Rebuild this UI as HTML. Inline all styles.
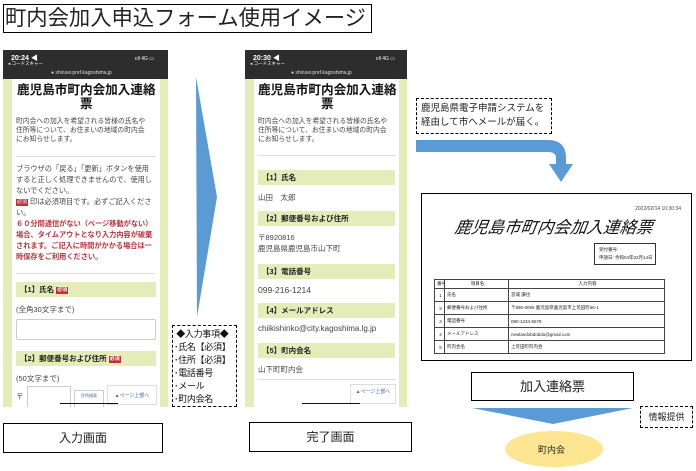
<!DOCTYPE html>
<html><head><meta charset="utf-8"><style>
*{margin:0;padding:0;box-sizing:border-box}
body{width:696px;height:471px;background:#fff;position:relative;overflow:hidden;font-family:"Liberation Sans","Noto Sans CJK JP",sans-serif;color:#222}
.a{position:absolute;white-space:nowrap}
.box{position:absolute;border:1.3px solid #000;background:#fff;white-space:nowrap}
.dash{position:absolute;border:1px dashed #000;background:#fff;white-space:nowrap}
.phone{position:absolute;background:#e4ecb9;overflow:hidden}
.sb{position:absolute;left:0;right:0;top:0;height:29px;background:#2d2d2d;color:#fff}
.in{position:absolute;top:29px;bottom:0;background:#fff;overflow:hidden}
.g{position:absolute;background:#e4ecb9;font-size:7.5px;font-weight:bold;padding-left:4px;line-height:15px;white-space:nowrap}
.t{font-size:7.5px;color:#444}
.req{display:inline-block;background:#c0303a;color:#fff;font-size:5px;padding:0 1px;line-height:7px;vertical-align:1px}
td{border:1px solid #444;padding-left:2px;white-space:nowrap;overflow:hidden}
</style></head><body>

<div class="box" style="left:3px;top:4px;width:369px;height:29px;font-size:21.3px;line-height:26px;padding-left:1px">町内会加入申込フォーム使用イメージ</div>

<!-- phone 1 -->
<div class="phone" style="left:3px;top:50px;width:165px;height:357px">
 <div class="sb"><div class="a" style="left:8px;top:3px;font-size:7px;font-weight:bold">20:24 ◀</div><div class="a" style="left:5px;top:11px;font-size:4.5px">◂ コードスキャー</div><div class="a" style="right:14px;top:6px;font-size:5px">ııll 4G ▭</div><div class="a" style="left:48px;top:20px;font-size:5px;color:#ddd">● shinsei.pref.kagoshima.jp</div></div>
 <div class="in" style="left:9px;right:8px">
  <div class="a" style="left:5px;top:4px;font-size:12.6px;font-weight:bold;line-height:14px;color:#111">鹿児島市町内会加入連絡<br><span style="padding-left:63px">票</span></div>
  <div class="a t" style="left:4px;top:38px;line-height:9px;font-size:6.8px">町内会への加入を希望される皆様の氏名や<br>住所等について、お住まいの地域の町内会<br>にお知らせします。</div>
  <div class="a" style="left:4px;right:4px;top:77px;border-top:1px solid #ddd"></div>
  <div class="a t" style="left:4px;top:84px;line-height:11px;font-size:7.2px">ブラウザの「戻る」「更新」ボタンを使用<br>すると正しく処理できませんので、使用し<br>ないでください。<br><span class="req">必須</span> 印は必須項目です。必ずご記入くださ<br>い。<br><b style="color:#c0303a">６０分間通信がない（ページ移動がない）<br>場合、タイムアウトとなり入力内容が破棄<br>されます。ご記入に時間がかかる場合は一<br>時保存をご利用ください。</b></div>
  <div class="a" style="left:4px;right:4px;top:194px;border-top:1px solid #ddd"></div>
  <div class="g" style="left:4px;right:4px;top:203px;height:15px">【1】氏名 <span class="req">必須</span></div>
  <div class="a t" style="left:4px;top:225px">(全角30文字まで)</div>
  <div class="a" style="left:4px;right:4px;top:240px;height:21px;border:1px solid #ccc;border-radius:2px"></div>
  <div class="g" style="left:4px;right:4px;top:272px;height:15px">【2】郵便番号および住所 <span class="req">必須</span></div>
  <div class="a t" style="left:4px;top:294px">(50文字まで)</div>
  <div class="a t" style="left:4px;top:312px">〒</div>
  <div class="a" style="left:15px;top:307px;width:44px;height:25px;border:1px solid #ccc"></div>
  <div class="a" style="left:62px;top:311px;width:30px;height:20px;border:1px solid #ccc;font-size:4px;color:#46a;text-align:center;line-height:10px">住所検索</div>
  <div class="a" style="left:95px;top:306px;width:50px;height:20px;border:1px solid #ddd;font-size:5px;color:#46a;line-height:20px;text-align:center;background:#fff">▲ページ上部へ</div>
  <div class="a" style="left:48px;top:324px;width:58px;border-top:1.5px solid #111"></div>
 </div>
</div>

<svg class="a" style="left:0;top:0" width="696" height="471">
 <polygon points="196,77 217,197 197,317" fill="#5b9bd5"/>
 <path d="M416,140 H548 Q566,140 566,158 V164 H573 L561,182 L549,164 H556 V158 Q556,152 548,152 H416 Z" fill="#5b9bd5"/>
 <polygon points="472,408 633,408 553,424" fill="#5b9bd5"/>
 <ellipse cx="554" cy="449" rx="49" ry="18" fill="#fde591"/>
</svg>

<div class="dash" style="left:172px;top:325px;width:65px;height:82px;font-size:9px;line-height:13px;padding:2px 0 0 1px;color:#111;letter-spacing:-0.3px">&nbsp;◆入力事項◆<br>･氏名【必須】<br>･住所【必須】<br>･電話番号<br>･メール<br>･町内会名</div>

<!-- phone 2 -->
<div class="phone" style="left:245px;top:50px;width:162px;height:357px">
 <div class="sb"><div class="a" style="left:8px;top:3px;font-size:7px;font-weight:bold">20:30 ◀</div><div class="a" style="left:5px;top:11px;font-size:4.5px">◂ コードスキャー</div><div class="a" style="right:12px;top:6px;font-size:5px">ııll 4G ▭</div><div class="a" style="left:46px;top:20px;font-size:5px;color:#ddd">● shinsei.pref.kagoshima.jp</div></div>
 <div class="in" style="left:9px;right:8px">
  <div class="a" style="left:4px;top:4px;font-size:12.6px;font-weight:bold;line-height:14px;color:#111">鹿児島市町内会加入連絡<br><span style="padding-left:63px">票</span></div>
  <div class="a t" style="left:4px;top:38px;line-height:9px;font-size:6.8px">町内会への加入を希望される皆様の氏名や<br>住所等について、お住まいの地域の町内会<br>にお知らせします。</div>
  <div class="a" style="left:4px;right:4px;top:76px;border-top:1px solid #ddd"></div>
  <div class="g" style="left:4px;right:4px;top:91px;height:15px">【1】氏名</div>
  <div class="a t" style="left:4px;top:113px">山田　太郎</div>
  <div class="g" style="left:4px;right:4px;top:132px;height:15px">【2】郵便番号および住所</div>
  <div class="a t" style="left:4px;top:153px;line-height:11px">〒8920816<br>鹿児島県鹿児島市山下町</div>
  <div class="g" style="left:4px;right:4px;top:185px;height:15px">【3】電話番号</div>
  <div class="a t" style="left:4px;top:206px;font-size:8.5px">099-216-1214</div>
  <div class="g" style="left:4px;right:4px;top:224px;height:15px">【4】メールアドレス</div>
  <div class="a t" style="left:4px;top:245px;font-size:8px">chiikishinko@city.kagoshima.lg.jp</div>
  <div class="g" style="left:4px;right:4px;top:264px;height:15px">【5】町内会名</div>
  <div class="a t" style="left:4px;top:285px">山下町町内会</div>
  <div class="a" style="left:4px;right:4px;top:300px;border-top:1px solid #ddd"></div>
  <div class="a" style="left:96px;top:305px;width:46px;height:20px;border:1px solid #ddd;font-size:5px;color:#46a;line-height:14px;text-align:center;background:#fff">▲ページ上部へ</div>
  <div class="a" style="left:48px;top:324px;width:58px;border-top:1.5px solid #111"></div>
 </div>
</div>

<div class="dash" style="left:416px;top:98px;width:136px;height:36px;font-size:9.5px;line-height:14px;padding:3px 0 0 4px;color:#222">鹿児島県電子申請システムを<br>経由して市へメールが届く。</div>

<!-- document -->
<div class="box" style="left:421px;top:193px;width:271px;height:168px;border-width:1.5px">
 <div class="a" style="right:10px;top:12px;font-size:5px;color:#444">2022/02/14 10:30:34</div>
 <div class="a" style="left:33px;top:20px;font-size:16.5px;font-style:italic;color:#111;transform:skewX(-8deg)">鹿児島市町内会加入連絡票</div>
 <div class="a" style="left:172px;top:49px;width:62px;height:22px;border:1.2px solid #333;font-size:4.5px;line-height:8px;padding:2px 0 0 4px">受付番号:<br>申請日: 令和04年02月14日</div>
 <table class="a" style="left:12px;top:85px;width:231px;border-collapse:collapse;font-size:4.5px;color:#222;table-layout:fixed">
  <tr style="height:9px"><td style="width:10px">番号</td><td style="width:64px;text-align:center">項目名</td><td style="text-align:center">入力内容</td></tr>
  <tr style="height:13px"><td style="text-align:center">1</td><td>氏名</td><td>宮城 謙也</td></tr>
  <tr style="height:13px"><td style="text-align:center">2</td><td>郵便番号および住所</td><td>〒890-0055 鹿児島県鹿児島市上荒田町56-1</td></tr>
  <tr style="height:13px"><td style="text-align:center">3</td><td>電話番号</td><td>090-1234-5678</td></tr>
  <tr style="height:13px"><td style="text-align:center">4</td><td>メールアドレス</td><td>newlandobdobdo@gmail.com</td></tr>
  <tr style="height:13px"><td style="text-align:center">5</td><td>町内会名</td><td>上荒田町町内会</td></tr>
 </table>
</div>

<div class="box" style="left:471px;top:372px;width:163px;height:29px;font-size:13px;line-height:27px;text-align:center">加入連絡票</div>
<div class="dash" style="left:640px;top:406px;width:53px;height:22px;font-size:9px;line-height:20px;text-align:center">情報提供</div>
<div class="a" style="left:538px;top:443px;font-size:9px">町内会</div>

<div class="box" style="left:3px;top:423px;width:160px;height:30px;font-size:12px;line-height:28px;text-align:center">入力画面</div>
<div class="box" style="left:249px;top:422px;width:163px;height:30px;font-size:12px;line-height:28px;text-align:center">完了画面</div>
</body></html>
